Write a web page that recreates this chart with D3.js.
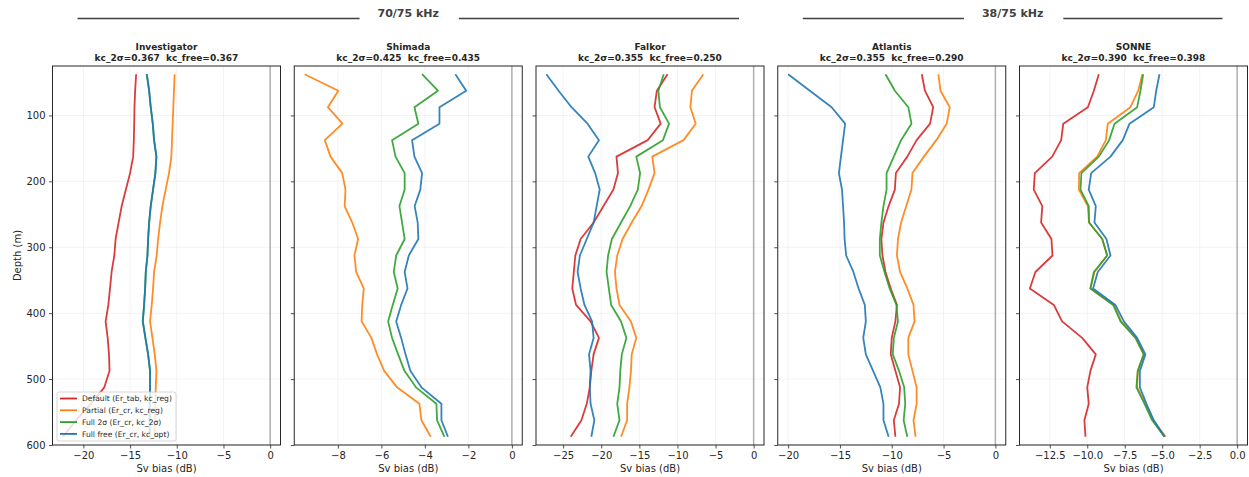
<!DOCTYPE html>
<html>
<head>
<meta charset="utf-8">
<script src="https://cdn.jsdelivr.net/npm/d3@7/dist/d3.min.js"></script>
<style>
  body { margin: 0; background: #fff; }
  text { font-family: "DejaVu Sans", sans-serif; fill: #262626; }
</style>
</head>
<body>
<div id="chart"></div>
<script>
// depth bin centres (m)
var depths = [37.5, 62.5, 87.5, 112.5, 137.5, 162.5, 187.5, 212.5, 237.5, 262.5, 287.5, 312.5,
              337.5, 362.5, 387.5, 412.5, 437.5, 462.5, 487.5, 512.5, 537.5, 562.5, 587.5];

var vessels = ["Investigator", "Shimada", "Falkor", "Atlantis", "SONNE"];
var kc2s    = ["0.367", "0.425", "0.355", "0.355", "0.390"];
var kcFree  = ["0.367", "0.435", "0.250", "0.290", "0.398"];

var seriesNames  = ["Default (Er_tab, kc_reg)", "Partial (Er_cr, kc_reg)", "Full 2σ (Er_cr, kc_2σ)", "Full free (Er_cr, kc_opt)"];
var seriesColors = ["#d62728", "#ff7f0e", "#2ca02c", "#1f77b4"];

// Sv bias (dB) per vessel, one array per series
var investigatorDefault = [-14.35, -14.46, -14.53, -14.56, -14.6, -14.67, -15.0, -15.45, -15.9, -16.23, -16.55, -16.69,
                           -16.98, -17.15, -17.33, -17.62, -17.4, -17.26, -17.2, -17.76, -19.2, -20.8, -22.2];
var investigatorPartial = [-10.23, -10.3, -10.37, -10.44, -10.51, -10.58, -10.83, -11.19, -11.54, -11.79, -12.0, -12.15,
                           -12.43, -12.54, -12.68, -12.86, -12.61, -12.36, -12.18, -12.25, -12.3, -12.35, -12.4];
var investigatorFull2s  = [-13.21, -12.96, -12.79, -12.57, -12.43, -12.18, -12.29, -12.54, -12.79, -12.96, -13.07, -13.14,
                           -13.32, -13.39, -13.5, -13.64, -13.36, -13.07, -12.86, -12.86, -12.9, -12.9, -12.9];
var investigatorFree    = [-13.21, -12.96, -12.79, -12.57, -12.43, -12.18, -12.29, -12.54, -12.79, -12.96, -13.07, -13.14,
                           -13.32, -13.39, -13.5, -13.64, -13.36, -13.07, -12.86, -12.86, -12.9, -12.9, -12.9];

var shimadaDefault = null;
var shimadaPartial = [-9.53, -7.98, -8.46, -7.79, -8.6, -8.34, -7.8, -7.65, -7.69, -7.34, -7.07, -7.24,
                      -7.16, -6.81, -6.88, -6.91, -6.46, -6.2, -5.87, -5.28, -4.25, -4.16, -3.73];
var shimadaFull2s  = [-4.13, -3.4, -4.48, -4.3, -5.51, -5.35, -4.93, -4.93, -5.17, -5.05, -4.93, -5.32,
                      -5.43, -5.25, -5.48, -5.69, -5.51, -5.23, -4.94, -4.41, -3.47, -3.44, -3.1];
var shimadaFree    = [-2.6, -2.1, -3.33, -3.33, -4.59, -4.48, -4.13, -4.21, -4.47, -4.33, -4.3, -4.74,
                      -4.93, -4.8, -5.09, -5.32, -5.09, -4.89, -4.67, -4.16, -3.24, -3.24, -2.94];

var falkorDefault = [-11.3, -12.7, -13.0, -12.2, -13.9, -18.0, -17.8, -18.4, -19.7, -21.0, -22.7, -23.4,
                     -23.6, -23.8, -23.3, -21.4, -20.3, -21.0, -21.3, -21.5, -21.9, -22.6, -24.0];
var falkorPartial = [-6.6, -8.1, -8.3, -7.6, -9.2, -13.3, -13.0, -13.8, -14.7, -16.0, -17.2, -17.9,
                     -18.2, -18.0, -17.6, -16.1, -15.4, -16.0, -16.1, -16.3, -16.6, -16.6, -17.4];
var falkorFull2s  = [-11.8, -12.5, -12.3, -11.1, -11.9, -15.4, -14.9, -15.2, -16.2, -17.4, -18.6, -19.1,
                     -19.3, -19.0, -18.7, -17.4, -16.7, -17.3, -17.5, -17.6, -17.9, -17.6, -18.4];
var falkorFree    = [-27.2, -25.6, -23.9, -21.8, -20.3, -21.7, -20.8, -20.2, -20.6, -21.0, -21.9, -22.8,
                     -23.1, -22.7, -22.2, -21.2, -21.0, -21.6, -21.4, -21.5, -21.4, -20.9, -21.3];

var atlantisDefault = [-7.1, -6.8, -6.0, -6.3, -7.6, -8.5, -9.6, -9.7, -10.3, -10.8, -11.0, -10.9,
                       -10.6, -10.1, -9.5, -9.65, -10.0, -10.1, -9.65, -9.2, -9.3, -9.8, -9.65];
var atlantisPartial = [-5.5, -5.3, -4.4, -4.7, -5.7, -6.9, -8.0, -8.1, -8.6, -9.1, -9.4, -9.5,
                       -9.2, -8.5, -7.9, -7.8, -8.4, -8.4, -8.0, -7.6, -7.6, -7.9, -7.7];
var atlantisFull2s  = [-10.6, -9.7, -8.4, -8.1, -9.1, -9.8, -10.5, -10.5, -10.8, -11.0, -11.15, -11.15,
                       -10.7, -10.2, -9.55, -9.4, -9.8, -9.9, -9.3, -8.8, -8.7, -8.85, -8.5];
var atlantisFree    = [-20.0, -17.9, -15.8, -14.5, -14.7, -14.9, -15.1, -14.8, -14.7, -14.6, -14.55, -14.4,
                       -13.7, -13.2, -12.6, -12.5, -12.75, -12.5, -11.8, -11.1, -10.8, -10.8, -10.3];

var sonneDefault = [-9.23, -9.56, -9.96, -11.6, -11.74, -12.34, -13.5, -13.57, -13.0, -13.08, -12.39, -12.32,
                    -13.46, -13.83, -12.23, -11.68, -10.34, -9.43, -9.79, -10.0, -9.9, -10.19, -10.12];
var sonnePartial = [-6.32, -6.6, -7.12, -8.63, -8.76, -9.34, -10.54, -10.56, -9.96, -9.88, -9.0, -8.67,
                    -9.52, -9.79, -8.23, -7.74, -6.78, -6.23, -6.63, -6.67, -6.12, -5.6, -4.76];
var sonneFull2s  = [-6.27, -6.45, -6.67, -8.18, -8.54, -9.23, -10.39, -10.45, -9.9, -9.88, -9.0, -8.67,
                    -9.56, -9.79, -8.27, -7.78, -6.78, -6.23, -6.63, -6.72, -6.18, -5.67, -4.85];
var sonneFree    = [-5.18, -5.4, -5.56, -7.18, -7.63, -8.45, -9.74, -9.9, -9.43, -9.52, -8.72, -8.45,
                    -9.3, -9.61, -8.12, -7.56, -6.67, -6.12, -6.49, -6.49, -6.05, -5.56, -4.85];

var vesselSeries = [
    [investigatorDefault, investigatorPartial, investigatorFull2s, investigatorFree],
    [shimadaDefault, shimadaPartial, shimadaFull2s, shimadaFree],
    [falkorDefault, falkorPartial, falkorFull2s, falkorFree],
    [atlantisDefault, atlantisPartial, atlantisFull2s, atlantisFree],
    [sonneDefault, sonnePartial, sonneFull2s, sonneFree]
];

// tick labels
var xTicks = [
    [-20, -15, -10, -5, 0],
    [-8, -6, -4, -2, 0],
    [-25, -20, -15, -10, -5, 0],
    [-20, -15, -10, -5, 0],
    [-12.5, -10, -7.5, -5, -2.5, 0]
];
var xTickDecimals = [0, 0, 0, 0, 1];
var yTicks = [100, 200, 300, 400, 500, 600];

var bandLabels = ["70/75 kHz", "38/75 kHz"];
var bandFirst  = [0, 2];
var bandFirstIdx = [0, 3];
var bandLastIdx  = [2, 4];

// 0. sizes
var svgW = 1249, svgH = 477;
var panelLeft0 = 52.5, panelStep = 241.75, panelW = 228;
var panelTop = 66, panelBottom = 445;

var svg = d3.select("#chart").append("svg")
    .attr("width", svgW).attr("height", svgH);

var yScale = d3.scaleLinear().domain([25, 600]).range([panelTop, panelBottom]);

function fmtTick(v, dec) {
    var s = v.toFixed(dec);
    return s.replace("-", "\u2212");
}

var line = d3.line();

vessels.forEach(function (name, p) {
    var left = panelLeft0 + p * panelStep;
    var g = svg.append("g").attr("transform", "translate(" + left + ",0)");

    // x domain: data and 0, with 5% margins
    var vals = [0];
    vesselSeries[p].forEach(function (s) { if (s) vals = vals.concat(s); });
    var lo = d3.min(vals), hi = d3.max(vals), pad = (hi - lo) * 0.05;
    var xScale = d3.scaleLinear().domain([lo - pad, hi + pad]).range([0, panelW]);

    // grid
    g.append("g").selectAll("line").data(xTicks[p]).enter().append("line")
        .attr("x1", function (d) { return xScale(d); }).attr("x2", function (d) { return xScale(d); })
        .attr("y1", panelTop).attr("y2", panelBottom)
        .attr("stroke", "#b0b0b0").attr("stroke-opacity", 0.2).attr("stroke-width", 0.8);
    g.append("g").selectAll("line").data(yTicks).enter().append("line")
        .attr("x1", 0).attr("x2", panelW)
        .attr("y1", function (d) { return yScale(d); }).attr("y2", function (d) { return yScale(d); })
        .attr("stroke", "#b0b0b0").attr("stroke-opacity", 0.2).attr("stroke-width", 0.8);

    // zero line
    g.append("line")
        .attr("x1", xScale(0)).attr("x2", xScale(0))
        .attr("y1", panelTop).attr("y2", panelBottom)
        .attr("stroke", "#808080").attr("stroke-opacity", 0.6).attr("stroke-width", 1.5);

    // clip
    g.append("clipPath").attr("id", "clip" + p).append("rect")
        .attr("x", 0).attr("y", panelTop).attr("width", panelW).attr("height", panelBottom - panelTop);

    // profiles
    vesselSeries[p].forEach(function (s, k) {
        if (!s) return;
        var pts = s.map(function (v, i) { return [xScale(v), yScale(depths[i])]; });
        g.append("path")
            .attr("clip-path", "url(#clip" + p + ")")
            .attr("d", line(pts))
            .attr("fill", "none")
            .attr("stroke", seriesColors[k])
            .attr("stroke-opacity", 0.9)
            .attr("stroke-width", 1.8)
            .attr("stroke-linejoin", "round");
    });

    // axes
    var axX = g.append("g")
        .attr("transform", "translate(0," + panelBottom + ")")
        .call(d3.axisBottom(xScale).tickValues(xTicks[p]).tickSize(3.5).tickPadding(3.5)
            .tickFormat(function (d) { return fmtTick(d, xTickDecimals[p]); }));
    axX.select(".domain").remove();
    axX.selectAll("text").attr("font-size", 10).attr("font-family", "DejaVu Sans").attr("fill", "#262626");
    axX.selectAll("line").attr("stroke", "#262626").attr("stroke-width", 0.8);

    var axY = g.append("g")
        .call(d3.axisLeft(yScale).tickValues(yTicks).tickSize(3.5).tickPadding(3.5)
            .tickFormat(p === 0 ? d3.format("d") : function () { return ""; }));
    axY.select(".domain").remove();
    axY.selectAll("text").attr("font-size", 10).attr("font-family", "DejaVu Sans").attr("fill", "#262626");
    axY.selectAll("line").attr("stroke", "#262626").attr("stroke-width", 0.8);

    // frame
    g.append("rect")
        .attr("x", 0).attr("y", panelTop).attr("width", panelW).attr("height", panelBottom - panelTop)
        .attr("fill", "none").attr("stroke", "#262626").attr("stroke-width", 1);

    // titles
    g.append("text").attr("x", panelW / 2).attr("y", 50)
        .attr("text-anchor", "middle").attr("font-size", 9).attr("font-weight", "bold")
        .text(name);
    g.append("text").attr("x", panelW / 2).attr("y", 61)
        .attr("text-anchor", "middle").attr("font-size", 9).attr("font-weight", "bold")
        .text("kc_2σ=" + kc2s[p] + "  kc_free=" + kcFree[p]).attr("xml:space", "preserve")
        .style("white-space", "pre");

    g.append("text").attr("x", panelW / 2).attr("y", 472)
        .attr("text-anchor", "middle").attr("font-size", 10)
        .text("Sv bias (dB)");
});

// y label
svg.append("text")
    .attr("transform", "translate(21," + ((panelTop + panelBottom) / 2) + ") rotate(-90)")
    .attr("text-anchor", "middle").attr("font-size", 10)
    .text("Depth (m)");

// frequency band headers
bandLabels.forEach(function (lab, b) {
    var x0 = panelLeft0 + bandFirstIdx[b] * panelStep + 25;
    var x1 = panelLeft0 + bandLastIdx[b] * panelStep + panelW - 25;
    var cx = (panelLeft0 + bandFirstIdx[b] * panelStep + panelLeft0 + bandLastIdx[b] * panelStep + panelW) / 2;
    var t = svg.append("text").attr("x", cx).attr("y", 17)
        .attr("text-anchor", "middle").attr("font-size", 11).attr("font-weight", "bold")
        .attr("fill", "#404040").style("fill", "#404040")
        .text(lab);
    var w = t.node().getComputedTextLength();
    svg.append("line").attr("x1", x0).attr("x2", cx - w / 2 - 18).attr("y1", 18.5).attr("y2", 18.5)
        .attr("stroke", "#404040").attr("stroke-width", 1.3);
    svg.append("line").attr("x1", cx + w / 2 + 20).attr("x2", x1).attr("y1", 18.5).attr("y2", 18.5)
        .attr("stroke", "#404040").attr("stroke-width", 1.3);
});

// legend (first panel)
var legend = svg.append("g").attr("transform", "translate(" + (panelLeft0 + 4.5) + ",392)");
legend.append("rect")
    .attr("x", 0).attr("y", 0).attr("width", 119).attr("height", 49).attr("rx", 2)
    .attr("fill", "#fff").attr("fill-opacity", 0.8)
    .attr("stroke", "#cccccc").attr("stroke-width", 0.8);
var items = legend.selectAll("g.item").data(seriesNames).enter().append("g")
    .attr("class", "item")
    .attr("transform", function (d, i) { return "translate(0," + (6.5 + i * 11.8) + ")"; });
items.append("line")
    .attr("x1", 3).attr("x2", 20)
    .attr("stroke", function (d, i) { return seriesColors[i]; })
    .attr("stroke-width", 1.8);
items.append("text")
    .attr("x", 25).attr("y", 0).attr("dy", "0.35em")
    .attr("font-size", 7.6)
    .text(function (d) { return d; });
</script>
</body>
</html>
